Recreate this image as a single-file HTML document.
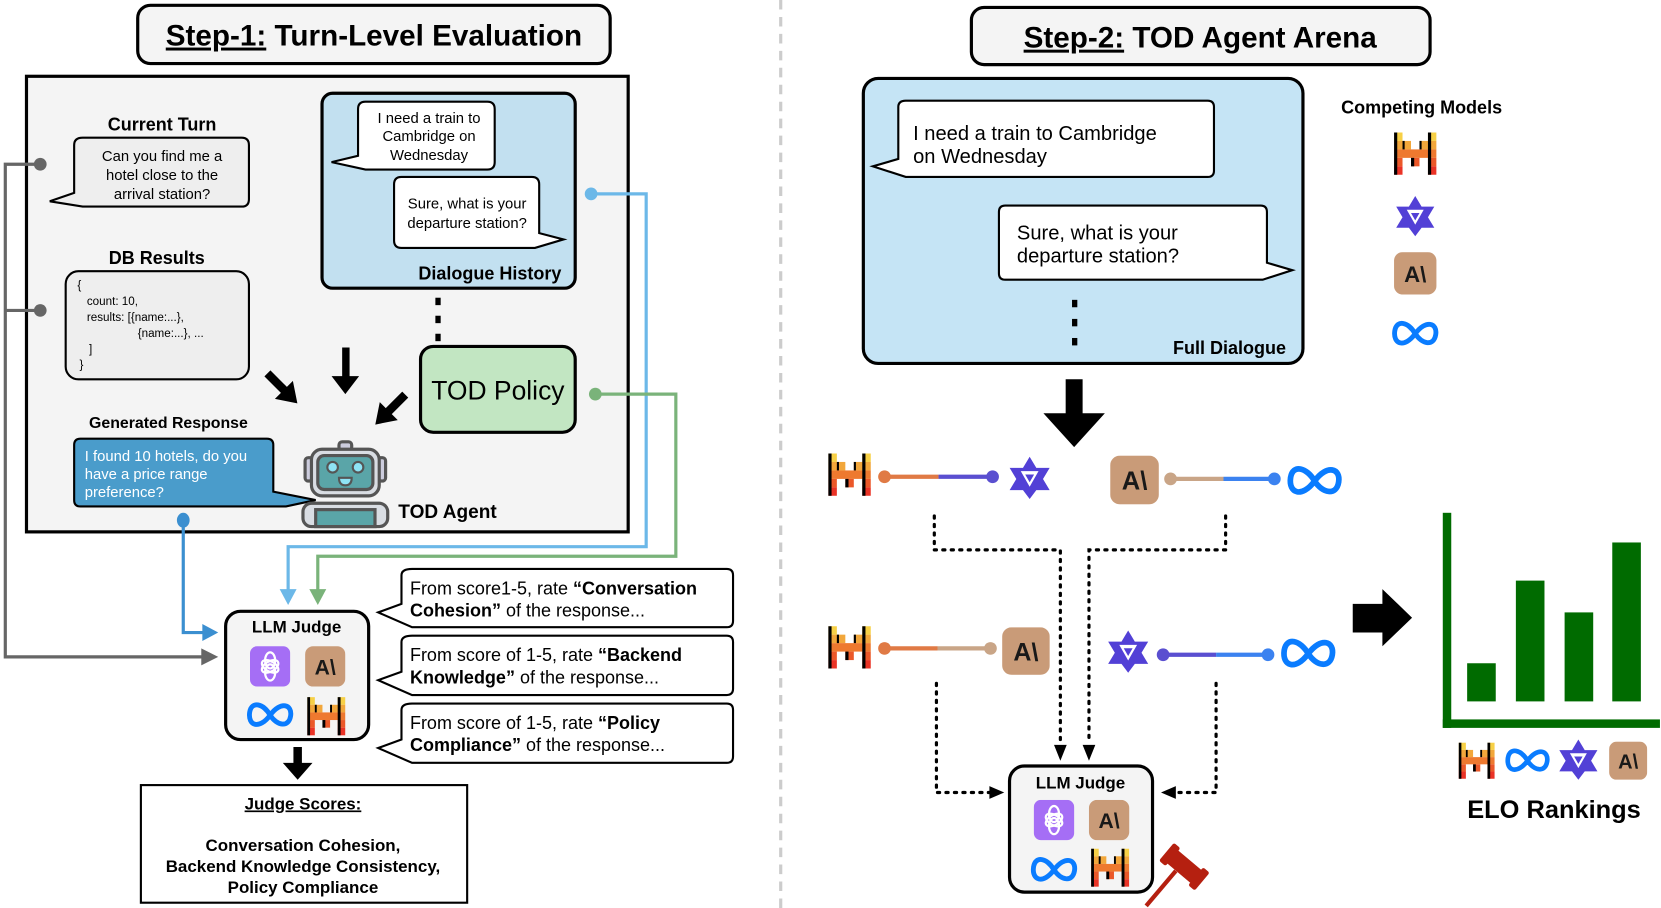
<!DOCTYPE html>
<html><head><meta charset="utf-8"><style>
html,body{margin:0;padding:0;background:#fff;}
svg{display:block;font-family:"Liberation Sans",Arial,sans-serif;}
</style></head><body>
<svg width="1661" height="908" viewBox="0 0 1568 857" preserveAspectRatio="none" xmlns="http://www.w3.org/2000/svg">
<defs>
<symbol id="mis" viewBox="0 0 40 40">
<rect x="0" y="0" width="8" height="8" fill="#f7d046"/><rect x="32" y="0" width="8" height="8" fill="#f7d046"/>
<rect x="0" y="8" width="16" height="8" fill="#f2a73b"/><rect x="24" y="8" width="16" height="8" fill="#f2a73b"/>
<rect x="0" y="16" width="40" height="8" fill="#ee792f"/>
<rect x="0" y="24" width="8" height="8" fill="#eb5829"/><rect x="16" y="24" width="8" height="8" fill="#eb5829"/><rect x="32" y="24" width="8" height="8" fill="#eb5829"/>
<rect x="0" y="32" width="8" height="8" fill="#ea3326"/><rect x="32" y="32" width="8" height="8" fill="#ea3326"/>
<rect x="0" y="0" width="3" height="40" fill="#000"/><rect x="32" y="0" width="3" height="40" fill="#000"/><rect x="16" y="24" width="3" height="8" fill="#000"/><rect x="8" y="8" width="2" height="8" fill="#000"/><rect x="24" y="8" width="2" height="8" fill="#000"/>
</symbol>
<symbol id="ant" viewBox="0 0 40 40">
<rect x="0" y="0" width="40" height="40" rx="8" fill="#c99b78"/>
<text x="20" y="28" text-anchor="middle" font-size="21" font-weight="bold" fill="#191919" font-family="Liberation Sans,sans-serif">A\</text>
</symbol>
<symbol id="meta" viewBox="0 0 50 30">
<path d="M25 15 C18 3 6 0 4 12 C2 26 14 30 25 15 C36 0 48 4 46 16 C44 28 32 26 25 15 Z" fill="none" stroke="#0a7cff" stroke-width="5"/>
</symbol>
<symbol id="oai" viewBox="0 0 40 40">
<rect x="0" y="0" width="40" height="40" rx="7" fill="#a56ef5"/>
<g fill="none" stroke="#fff" stroke-width="2.2">
<ellipse cx="20" cy="14" rx="5" ry="8"/><ellipse cx="20" cy="26" rx="5" ry="8"/>
<ellipse cx="20" cy="20" rx="5" ry="9" transform="rotate(60 20 20)"/><ellipse cx="20" cy="20" rx="5" ry="9" transform="rotate(-60 20 20)"/>
</g>
</symbol>
<symbol id="qwen" viewBox="0 0 40 40">
<polygon points="20,1 26,11 38,11 32,21 38,31 26,31 20,39 14,31 2,31 8,21 2,11 14,11" fill="#5240d6"/>
<polygon points="12,14 28,14 20,28" fill="#fff"/>
<polygon points="16,17 24,17 20,24" fill="#5240d6"/>
</symbol>
<marker id="ag" markerWidth="4" markerHeight="4" refX="2" refY="2" orient="auto" markerUnits="strokeWidth"><path d="M0,0 L4,2 L0,4 z" fill="#666"/></marker>
</defs>

<!-- divider -->
<line x1="737" y1="0" x2="737" y2="857" stroke="#ccc" stroke-width="3" stroke-dasharray="9 7"/>

<!-- LEFT -->
<rect x="130" y="5" width="446" height="55" rx="12" fill="#f4f4f4" stroke="#000" stroke-width="3"/>
<text x="353" y="43" text-anchor="middle" font-size="28" font-weight="bold"><tspan text-decoration="underline">Step-1:</tspan> Turn-Level Evaluation</text>

<rect x="25" y="72" width="568" height="430" fill="#f4f4f4" stroke="#000" stroke-width="3"/>

<text x="153" y="123" text-anchor="middle" font-size="17" font-weight="bold">Current Turn</text>
<path d="M78,130 H228 Q235,130 235,137 V188 Q235,195 228,195 H78 L47,190 L70,182 V137 Q70,130 78,130 Z" fill="#eee" stroke="#000" stroke-width="2"/>
<g font-size="14" text-anchor="middle"><text x="153" y="152">Can you find me a</text><text x="153" y="170">hotel close to the</text><text x="153" y="188">arrival station?</text></g>

<text x="148" y="249" text-anchor="middle" font-size="17" font-weight="bold">DB Results</text>
<rect x="62" y="256" width="173" height="102" rx="12" fill="#eee" stroke="#000" stroke-width="2"/>
<g font-size="11"><text x="73" y="273">{</text><text x="82" y="288">count: 10,</text><text x="82" y="303">results: [{name:...},</text><text x="130" y="318">{name:...}, ...</text><text x="84" y="333">]</text><text x="75" y="348">}</text></g>

<rect x="304" y="88" width="239" height="184" rx="10" fill="#c2e0f0" stroke="#000" stroke-width="3"/>
<path d="M345,96 H460 Q467,96 467,103 V153 Q467,160 460,160 H345 L313,153 L338,147 V103 Q338,96 345,96 Z" fill="#fff" stroke="#000" stroke-width="2"/>
<g font-size="14" text-anchor="middle"><text x="405" y="116">I need a train to</text><text x="405" y="133">Cambridge on</text><text x="405" y="151">Wednesday</text></g>
<path d="M379,167 H502 Q509,167 509,174 V220 L532,226 L505,234 H379 Q372,234 372,227 V174 Q372,167 379,167 Z" fill="#fff" stroke="#000" stroke-width="2"/>
<g font-size="14" text-anchor="middle"><text x="441" y="197">Sure, what is your</text><text x="441" y="215">departure station?</text></g>
<text x="530" y="264" text-anchor="end" font-size="17" font-weight="bold">Dialogue History</text>
<g fill="#000"><rect x="411" y="281" width="5" height="7"/><rect x="411" y="298" width="5" height="7"/><rect x="411" y="315" width="5" height="7"/></g>

<rect x="397" y="327" width="146" height="81" rx="12" fill="#c2e6c2" stroke="#000" stroke-width="3"/>
<text x="470" y="377" text-anchor="middle" font-size="25">TOD Policy</text>

<!-- black arrows -->
<g fill="#000">
<polygon points="323,328 330,328 330,355 339,355 326,372 313,355 323,355"/>
<g transform="translate(268,368) rotate(-45)"><polygon points="-4,-22 4,-22 4,0 12,0 0,18 -12,0 -4,0"/></g>
<g transform="translate(367,388) rotate(45)"><polygon points="-4,-22 4,-22 4,0 12,0 0,18 -12,0 -4,0"/></g>
</g>

<text x="159" y="404" text-anchor="middle" font-size="15" font-weight="bold">Generated Response</text>
<path d="M76,414 H252 Q258,414 258,420 V464 L298,472 L270,478 H76 Q70,478 70,472 V420 Q70,414 76,414 Z" fill="#4a9ccb" stroke="#000" stroke-width="2"/>
<g font-size="14" fill="#fff"><text x="80" y="435">I found 10 hotels, do you</text><text x="80" y="452">have a price range</text><text x="80" y="469">preference?</text></g>

<!-- robot -->
<g stroke="#555" stroke-width="3">
<rect x="320" y="417" width="12" height="8" rx="3" fill="#ccd"/>
<rect x="288" y="432" width="8" height="22" rx="3" fill="#ccd"/><rect x="356" y="432" width="8" height="22" rx="3" fill="#ccd"/>
<rect x="294" y="424" width="64" height="44" rx="10" fill="#d9dde3"/>
<rect x="300" y="430" width="52" height="32" rx="6" fill="#5aa5a8"/>
<rect x="286" y="475" width="80" height="22" rx="8" fill="#d9dde3"/>
<rect x="298" y="481" width="56" height="16" fill="#5aa5a8"/>
</g>
<g stroke="#555" stroke-width="2" fill="#8ee3f5"><circle cx="314" cy="441" r="5"/><circle cx="338" cy="441" r="5"/><path d="M320,451 H332 Q332,458 326,458 Q320,458 320,451 Z"/></g>
<text x="376" y="489" font-size="18" font-weight="bold">TOD Agent</text>

<!-- connectors -->
<g fill="none" stroke="#666" stroke-width="3">
<polyline points="38,155 5,155 5,620 195,620"/>
<line x1="5" y1="293" x2="38" y2="293"/>
</g>
<circle cx="38" cy="155" r="6" fill="#666"/><circle cx="38" cy="293" r="6" fill="#666"/>
<polygon points="190,612 206,620 190,628" fill="#666"/>

<polyline points="173,491 173,597 193,597" fill="none" stroke="#3b8fd0" stroke-width="3"/>
<ellipse cx="173" cy="491" rx="6" ry="7" fill="#3b8fd0"/>
<polygon points="191,589 206,597 191,605" fill="#3b8fd0"/>

<polyline points="558,183 610,183 610,516 272,516 272,558" fill="none" stroke="#6cb8e8" stroke-width="3"/>
<circle cx="558" cy="183" r="6" fill="#6cb8e8"/>
<polygon points="264,556 280,556 272,571" fill="#6cb8e8"/>
<polyline points="562,372 638,372 638,525 300,525 300,558" fill="none" stroke="#7ab37a" stroke-width="3"/>
<circle cx="562" cy="372" r="6" fill="#7ab37a"/>
<polygon points="292,556 308,556 300,571" fill="#7ab37a"/>

<!-- LLM Judge left -->
<rect x="213" y="577" width="135" height="121" rx="14" fill="#f4f4f4" stroke="#000" stroke-width="3"/>
<text x="280" y="597" text-anchor="middle" font-size="16" font-weight="bold">LLM Judge</text>
<use href="#oai" x="236" y="609" width="38" height="40"/>
<use href="#ant" x="288" y="609" width="38" height="40"/>
<use href="#meta" x="232" y="660" width="46" height="30"/>
<use href="#mis" x="290" y="656" width="36" height="40"/>

<polygon points="277,705 285,705 285,720 295,720 281,736 267,720 277,720" fill="#000"/>

<rect x="133" y="741" width="308" height="111" fill="#fff" stroke="#000" stroke-width="2"/>
<g font-size="16" font-weight="bold" text-anchor="middle">
<text x="286" y="764" text-decoration="underline">Judge Scores:</text>
<text x="286" y="803">Conversation Cohesion,</text>
<text x="286" y="823">Backend Knowledge Consistency,</text>
<text x="286" y="843">Policy Compliance</text></g>

<!-- prompts -->
<g fill="#fff" stroke="#000" stroke-width="2">
<path d="M389,537 H686 Q692,537 692,543 V586 Q692,592 686,592 H389 L357,578 L379,570 V543 Q379,537 389,537 Z"/>
<path d="M389,600 H686 Q692,600 692,606 V650 Q692,656 686,656 H389 L357,642 L379,634 V606 Q379,600 389,600 Z"/>
<path d="M389,664 H686 Q692,664 692,670 V714 Q692,720 686,720 H389 L357,706 L379,698 V670 Q379,664 389,664 Z"/>
</g>
<g font-size="17">
<text x="387" y="561">From score1-5, rate <tspan font-weight="bold">“Conversation</tspan></text>
<text x="387" y="582"><tspan font-weight="bold">Cohesion”</tspan> of the response...</text>
<text x="387" y="624">From score of 1-5, rate <tspan font-weight="bold">“Backend</tspan></text>
<text x="387" y="645"><tspan font-weight="bold">Knowledge”</tspan> of the response...</text>
<text x="387" y="688">From score of 1-5, rate <tspan font-weight="bold">“Policy</tspan></text>
<text x="387" y="709"><tspan font-weight="bold">Compliance”</tspan> of the response...</text>
</g>

<!-- RIGHT -->
<rect x="917" y="7" width="433" height="54" rx="12" fill="#f4f4f4" stroke="#000" stroke-width="3"/>
<text x="1133" y="45" text-anchor="middle" font-size="28" font-weight="bold"><tspan text-decoration="underline">Step-2:</tspan> TOD Agent Arena</text>

<rect x="815" y="74" width="415" height="269" rx="14" fill="#c5e4f5" stroke="#000" stroke-width="3"/>
<path d="M855,95 H1140 Q1146,95 1146,101 V161 Q1146,167 1140,167 H855 L824,157 L848,150 V101 Q848,95 855,95 Z" fill="#fff" stroke="#000" stroke-width="2"/>
<g font-size="19"><text x="862" y="132">I need a train to Cambridge</text><text x="862" y="154">on Wednesday</text></g>
<path d="M949,194 H1190 Q1196,194 1196,200 V248 L1220,255 L1192,264 H949 Q943,264 943,258 V200 Q943,194 949,194 Z" fill="#fff" stroke="#000" stroke-width="2"/>
<g font-size="19"><text x="960" y="226">Sure, what is your</text><text x="960" y="248">departure station?</text></g>
<g fill="#000"><rect x="1012" y="283" width="5" height="7"/><rect x="1012" y="301" width="5" height="7"/><rect x="1012" y="319" width="5" height="7"/></g>
<text x="1214" y="334" text-anchor="end" font-size="17" font-weight="bold">Full Dialogue</text>

<text x="1342" y="107" text-anchor="middle" font-size="17" font-weight="bold">Competing Models</text>
<use href="#mis" x="1316" y="125" width="40" height="40"/>
<use href="#qwen" x="1316" y="184" width="40" height="40"/>
<use href="#ant" x="1315" y="238" width="42" height="40"/>
<use href="#meta" x="1313" y="300" width="46" height="30"/>

<polygon points="1006,358 1022,358 1022,390 1043,390 1014,422 985,390 1006,390" fill="#000"/>

<!-- pairs -->
<use href="#mis" x="781" y="428" width="42" height="40"/>
<line x1="835" y1="450" x2="886" y2="450" stroke="#e07a45" stroke-width="4"/><line x1="886" y1="450" x2="937" y2="450" stroke="#5a4fd0" stroke-width="4"/>
<circle cx="835" cy="450" r="6" fill="#e07a45"/><circle cx="937" cy="450" r="6" fill="#5a4fd0"/>
<use href="#qwen" x="951" y="430" width="42" height="42"/>
<use href="#ant" x="1048" y="430" width="46" height="46"/>
<line x1="1105" y1="452" x2="1155" y2="452" stroke="#c9a587" stroke-width="4"/><line x1="1155" y1="452" x2="1203" y2="452" stroke="#3b82f0" stroke-width="4"/>
<circle cx="1105" cy="452" r="6" fill="#c9a587"/><circle cx="1203" cy="452" r="6" fill="#3b82f0"/>
<use href="#meta" x="1214" y="436" width="54" height="36"/>

<use href="#mis" x="781" y="591" width="42" height="40"/>
<line x1="835" y1="612" x2="885" y2="612" stroke="#e07a45" stroke-width="4"/><line x1="885" y1="612" x2="935" y2="612" stroke="#c9a587" stroke-width="4"/>
<circle cx="835" cy="612" r="6" fill="#e07a45"/><circle cx="935" cy="612" r="6" fill="#c9a587"/>
<use href="#ant" x="946" y="592" width="45" height="45"/>
<use href="#qwen" x="1044" y="594" width="42" height="42"/>
<line x1="1098" y1="618" x2="1148" y2="618" stroke="#5a4fd0" stroke-width="4"/><line x1="1148" y1="618" x2="1197" y2="618" stroke="#3b82f0" stroke-width="4"/>
<circle cx="1098" cy="618" r="6" fill="#5a4fd0"/><circle cx="1197" cy="618" r="6" fill="#3b82f0"/>
<use href="#meta" x="1208" y="598" width="54" height="38"/>

<!-- dotted -->
<g fill="none" stroke="#000" stroke-width="3" stroke-dasharray="2 6" stroke-linecap="round">
<polyline points="882,487 882,519 1001,519 1001,700"/>
<polyline points="1157,487 1157,519 1028,519 1028,700"/>
<polyline points="884,645 884,748 935,748"/>
<polyline points="1148,645 1148,748 1110,748"/>
</g>
<g fill="#000">
<polygon points="995,703 1007,703 1001,718"/><polygon points="1022,703 1034,703 1028,718"/>
<polygon points="934,742 948,748 934,754"/><polygon points="1110,742 1096,748 1110,754"/>
</g>

<rect x="953" y="723" width="135" height="119" rx="14" fill="#f4f4f4" stroke="#000" stroke-width="3"/>
<text x="1020" y="744" text-anchor="middle" font-size="16" font-weight="bold">LLM Judge</text>
<use href="#oai" x="975" y="755" width="40" height="38"/>
<use href="#ant" x="1027" y="755" width="40" height="38"/>
<use href="#meta" x="972" y="806" width="46" height="30"/>
<use href="#mis" x="1030" y="801" width="36" height="36"/>
<!-- gavel -->
<g fill="#b52010">
<line x1="1082" y1="855" x2="1110" y2="822" stroke="#b52010" stroke-width="4"/>
<g transform="translate(1118,818) rotate(40)"><rect x="-16" y="-8" width="32" height="16" rx="2"/><rect x="-22" y="-11" width="8" height="22" rx="2"/><rect x="14" y="-11" width="8" height="22" rx="2"/></g>
</g>

<!-- right arrow -->
<polygon points="1277,570 1305,570 1305,556 1333,583 1305,610 1305,597 1277,597" fill="#000"/>

<!-- chart -->
<g fill="#006b00">
<rect x="1362" y="484" width="8" height="203"/>
<rect x="1362" y="679" width="205" height="8"/>
<rect x="1385" y="626" width="27" height="36"/>
<rect x="1431" y="548" width="27" height="114"/>
<rect x="1477" y="578" width="27" height="84"/>
<rect x="1522" y="512" width="27" height="150"/>
</g>
<use href="#mis" x="1377" y="700" width="34" height="36"/>
<use href="#meta" x="1420" y="704" width="44" height="28"/>
<use href="#qwen" x="1470" y="697" width="40" height="40"/>
<use href="#ant" x="1519" y="700" width="36" height="36"/>
<text x="1467" y="772" text-anchor="middle" font-size="24" font-weight="bold">ELO Rankings</text>
</svg>
</body></html>
